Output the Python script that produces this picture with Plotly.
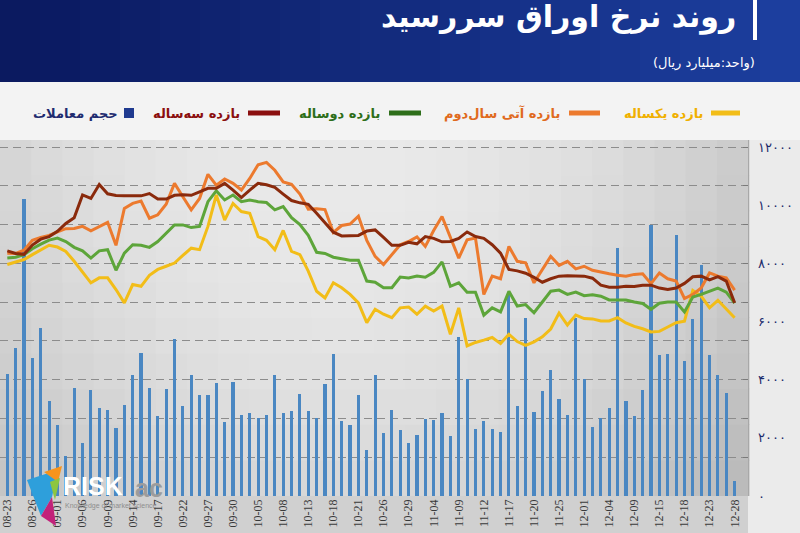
import plotly.graph_objects as go

# ---------------- data ----------------
tick_labels = ["08-23", "08-26", "09-01", "09-06", "09-09", "09-14", "09-17", "09-22",
               "09-27", "09-30", "10-05", "10-08", "10-13", "10-18", "10-21", "10-26",
               "10-29", "11-04", "11-09", "11-12", "11-17", "11-20", "11-25", "12-01",
               "12-04", "12-09", "12-15", "12-18", "12-23", "12-28"]

yield_1y = [7960, 8050, 8130, 8300, 8470, 8620, 8560, 8410, 8070, 7700,
            7330, 7500, 7500, 7100, 6640, 7270, 7210, 7590, 7790, 7900,
            8010, 8270, 8520, 8470, 9270, 10350, 9490, 10060, 9780, 9720,
            8920, 8790, 8470, 9130, 8410, 8300, 7730, 7040, 6810, 7330,
            7160, 6930, 6640, 5960, 6420, 6250, 6130, 6470, 6500, 6250,
            6530, 6360, 6530, 5560, 6470, 5160, 5280, 5360, 5450, 5240,
            5560, 5310, 5180, 5300, 5470, 5740, 6290, 5880, 6220, 6100,
            6090, 6020, 6020, 6130, 5950, 5830, 5750, 5640, 5660, 5810,
            5960, 6010, 7070, 6870, 6470, 6730, 6420, 6130]

yield_fwd_2nd = [8350, 8340, 8450, 8790, 8890, 8960, 9080, 9190, 9200, 9270,
                 9120, 9270, 9410, 8620, 9890, 10060, 10140, 9550, 9670, 10030,
                 10750, 10290, 9840, 10230, 11060, 10690, 10900, 10750, 10520, 10920,
                 11390, 11470, 11200, 10800, 10720, 10380, 9860, 9880, 9850, 9060,
                 9300, 9350, 9620, 8790, 8240, 7960, 8300, 8640, 8750, 8910,
                 8580, 9130, 9610, 8870, 8180, 8810, 8870, 6930, 7560, 7470,
                 8580, 8070, 8020, 7330, 7810, 8240, 7930, 8070, 7810, 7900,
                 7760, 7690, 7640, 7590, 7560, 7620, 7640, 7300, 7670, 7470,
                 7390, 6790, 6930, 7150, 7670, 7560, 7500, 7080]

yield_2y = [8180, 8210, 8300, 8500, 8660, 8800, 8870, 8750, 8550, 8430,
            8180, 8430, 8470, 7760, 8350, 8640, 8620, 8550, 8750, 9040,
            9320, 9320, 9230, 9270, 10120, 10490, 10180, 10350, 10120, 10180,
            10120, 10090, 9840, 9950, 9570, 9330, 8960, 8380, 8340, 8210,
            8170, 8110, 8110, 7390, 7350, 7160, 7160, 7530, 7500, 7560,
            7520, 7690, 8050, 7210, 7330, 7010, 7010, 6220, 6470, 6330,
            7040, 6530, 6580, 6300, 6670, 7040, 7080, 6930, 7010, 6890,
            6920, 6870, 6740, 6750, 6740, 6670, 6620, 6420, 6630, 6670,
            6670, 6330, 6840, 6930, 7030, 7150, 7010, 6630]

yield_3y = [8430, 8340, 8310, 8630, 8830, 8920, 9100, 9370, 9570, 10350,
            10230, 10710, 10390, 10330, 10320, 10320, 10320, 10400, 10210, 10210,
            10340, 10360, 10340, 10460, 10580, 10580, 10750, 10520, 10260, 10520,
            10750, 10700, 10610, 10380, 10160, 10080, 10030, 9720, 9380, 9070,
            8940, 8940, 8960, 9110, 9150, 8890, 8620, 8620, 8720, 8670,
            8920, 8860, 8740, 8750, 8860, 9080, 8920, 8860, 8640, 8350,
            7790, 7740, 7660, 7520, 7350, 7470, 7560, 7570, 7570, 7560,
            7490, 7250, 7180, 7180, 7210, 7200, 7250, 7250, 7150, 7100,
            7150, 7310, 7540, 7560, 7430, 7540, 7390, 6640]

trade_volume = [4200, 5080, 10220, 4740, 5790, 3280, 2430, 1370, 3720, 1820,
                3660, 3030, 2970, 2350, 3140, 4160, 4930, 3720, 2740, 3680,
                5390, 3090, 4160, 3460, 3460, 3890, 2540, 3930, 2800, 2870,
                2690, 2800, 4160, 2850, 2940, 3500, 2940, 2690, 3850, 4880,
                2590, 2450, 3480, 1570, 4160, 2160, 2970, 2260, 1820, 2110,
                2660, 2630, 2850, 2080, 5470, 4030, 2320, 2570, 2320, 2200,
                6990, 3080, 6110, 2880, 3600, 4340, 3340, 2790, 6130, 4020,
                2370, 2690, 3020, 8520, 3280, 2740, 3650, 9320, 4860, 4880,
                8980, 4650, 6090, 7960, 4840, 4170, 3550, 520]

y_tick_values = [0, 2000, 4000, 6000, 8000, 10000, 12000]
y_tick_text = ["۰", "۲۰۰۰", "۴۰۰۰", "۶۰۰۰", "۸۰۰۰", "۱۰۰۰۰", "۱۲۰۰۰"]

series_names = ["بازده یکساله", "بازده آتی سال‌دوم", "بازده دوساله", "بازده سه‌ساله", "حجم معاملات"]
title_text = "روند نرخ اوراق سررسید"
unit_text = "(واحد:میلیارد ریال)"

# ---------------- styling ----------------
C_YEL = "#F2BD18"
C_ORG = "#EC7A2E"
C_GRN = "#5DA53A"
C_RED = "#8A2A0C"
C_BAR = "#4A87C2"

W, H = 800, 533
PL, PR, PT, PB = 0, 748, 140, 496   # plot area in pixels
FA = "DejaVu Sans"


def px(x):
    return (x - PL) / (PR - PL)


def py(y):
    return (PB - y) / (PB - PT)


x_idx = list(range(len(yield_1y)))
tick_pos = x_idx[::3]

fig = go.Figure()
fig.add_trace(go.Bar(x=x_idx, y=trade_volume, width=0.38, marker=dict(color=C_BAR, line=dict(width=0)),
                     name=series_names[4], showlegend=False))
for vals, col, nm in [(yield_1y, C_YEL, series_names[0]), (yield_fwd_2nd, C_ORG, series_names[1]),
                      (yield_2y, C_GRN, series_names[2]), (yield_3y, C_RED, series_names[3])]:
    fig.add_trace(go.Scatter(x=x_idx, y=vals, mode="lines", line=dict(color=col, width=3),
                             name=nm, showlegend=False))

shapes = []

# plot background: soft radial-ish gradient
NC, NR = 24, 10
for c in range(NC):
    for r in range(NR):
        fx = (c + 0.5) / NC
        fy = (r + 0.5) / NR
        d2 = ((fx - 0.45) / 0.55) ** 2 + ((fy - 1.0) / 1.3) ** 2
        b = int(max(178, min(234, 234 - 32 * d2)))
        shapes.append(dict(type="rect", xref="paper", yref="paper", x0=c / NC, x1=(c + 1) / NC + 0.002,
                           y0=r / NR, y1=(r + 1) / NR + 0.002, fillcolor=f"rgb({b},{b},{b})",
                           line=dict(width=0), layer="below"))

# band under plot (x labels)
shapes.append(dict(type="rect", xref="paper", yref="paper", x0=px(0), x1=px(PR), y0=py(533), y1=py(PB),
                   fillcolor="#d0d0d0", line=dict(width=0), layer="below"))
# legend band
shapes.append(dict(type="rect", xref="paper", yref="paper", x0=px(0), x1=px(W), y0=py(PT), y1=py(82),
                   fillcolor="#f3f3f3", line=dict(width=0), layer="below"))
# header gradient
NH = 20
for k in range(NH):
    t = k / (NH - 1)
    r_ = int(11 + (28 - 11) * t)
    g_ = int(26 + (62 - 26) * t)
    b_ = int(96 + (158 - 96) * t)
    shapes.append(dict(type="rect", xref="paper", yref="paper", x0=px(W * k / NH), x1=px(W * (k + 1) / NH) + 0.002,
                       y0=py(82), y1=py(0), fillcolor=f"rgb({r_},{g_},{b_})", line=dict(width=0), layer="below"))
# white vertical bar in header
shapes.append(dict(type="rect", xref="paper", yref="paper", x0=px(753), x1=px(757), y0=py(40), y1=py(0),
                   fillcolor="white", line=dict(width=0), layer="above"))

annotations = [
    dict(text="<b>" + title_text + "</b>", x=px(738), y=py(17), xref="paper", yref="paper",
         xanchor="right", yanchor="middle", showarrow=False, font=dict(family=FA, size=30, color="white")),
    dict(text=unit_text, x=px(757), y=py(63), xref="paper", yref="paper",
         xanchor="right", yanchor="middle", showarrow=False, font=dict(family=FA, size=13, color="white")),
]

# manual RTL legend
legend_items = [
    (series_names[0], C_YEL, "#F0B000", 711, 740, 705),
    (series_names[1], C_ORG, "#E06A1E", 569, 600, 562),
    (series_names[2], "#2E6E1A", "#2E6E1A", 389, 421, 382),
    (series_names[3], "#8B0F0F", "#8B0F0F", 248, 280, 242),
]
LY = 113
for name, lc, tc, x0, x1, tx in legend_items:
    shapes.append(dict(type="line", xref="paper", yref="paper", x0=px(x0), x1=px(x1), y0=py(LY), y1=py(LY),
                       line=dict(color=lc, width=5), layer="above"))
    annotations.append(dict(text="<b>" + name + "</b>", x=px(tx), y=py(LY), xref="paper", yref="paper",
                            xanchor="right", yanchor="middle", showarrow=False,
                            font=dict(family=FA, size=13, color=tc)))
shapes.append(dict(type="rect", xref="paper", yref="paper", x0=px(124), x1=px(134), y0=py(118), y1=py(108),
                   fillcolor="#1F3A8F", line=dict(width=0), layer="above"))
annotations.append(dict(text="<b>" + series_names[4] + "</b>", x=px(120), y=py(LY), xref="paper", yref="paper",
                        xanchor="right", yanchor="middle", showarrow=False,
                        font=dict(family=FA, size=13, color="#1F2C70")))

# watermark logo
logo_parts = [
    ([(27, 480), (58, 470), (52, 497), (41, 516)], "#2E9FDB"),
    ([(44, 472), (62, 466), (58, 482)], "#F7941D"),
    ([(50, 482), (60, 478), (55, 500)], "#8DC63F"),
    ([(41, 516), (52, 497), (56, 526)], "#C2227A"),
]
for pts, col in logo_parts:
    path = "M " + " L ".join(f"{px(a):.4f},{py(b):.4f}" for a, b in pts) + " Z"
    shapes.append(dict(type="path", xref="paper", yref="paper", path=path, fillcolor=col,
                       line=dict(width=0), layer="above"))
annotations += [
    dict(text="<b>RISK</b>", x=px(61), y=py(486), xref="paper", yref="paper", xanchor="left", yanchor="middle",
         showarrow=False, font=dict(family="Liberation Sans", size=25, color="white")),
    dict(text="<b>ac</b>", x=px(133), y=py(488), xref="paper", yref="paper", xanchor="left", yanchor="middle",
         showarrow=False, font=dict(family="Liberation Sans", size=25, color="#9C9C9C")),
    dict(text="Knowledge of market science", x=px(63), y=py(506), xref="paper", yref="paper", xanchor="left",
         yanchor="middle", showarrow=False, font=dict(family="Liberation Sans", size=7, color="#8E8E8E")),
]

y_top = 12000 * (PB - PT) / (PB - 147)
grid_vals = [12000 * k / 9 for k in range(1, 10)]

fig.update_layout(
    template="none",
    width=W, height=H,
    margin=dict(l=PL, r=W - PR, t=PT, b=H - PB, pad=0),
    paper_bgcolor="#ebebeb",
    plot_bgcolor="#d8d8d8",
    showlegend=False,
    bargap=0,
    xaxis=dict(range=[-0.873, 88.6], tickmode="array", tickvals=tick_pos, ticktext=tick_labels,
               tickangle=-90, showgrid=False, zeroline=False, showline=False, ticks="",
               automargin=False, tickfont=dict(family="Liberation Sans Narrow", size=12, color="#3A3A3A")),
    yaxis=dict(range=[0, y_top], side="right", tickmode="array", tickvals=y_tick_values, ticktext=y_tick_text,
               showgrid=False, zeroline=False, showline=False, ticks="", automargin=False,
               ticklabelstandoff=9, tickfont=dict(family=FA, size=13, color="#1B2A6B")),
    yaxis2=dict(range=[0, y_top], overlaying="y", side="right", tickmode="array", tickvals=grid_vals,
                showticklabels=False, showgrid=True, griddash="8px,5px", gridcolor="#8C8C8C", gridwidth=1,
                zeroline=False, showline=True, linecolor="#A8A8A8", linewidth=1,
                ticks="inside", ticklen=5, tickcolor="#7A7A7A", automargin=False),
    shapes=shapes,
    annotations=annotations,
)
# invisible helper trace so that the grid axis (yaxis2) is drawn
fig.add_trace(go.Scatter(x=[x_idx[0]], y=[0], yaxis="y2", mode="markers", marker=dict(opacity=0),
                         hoverinfo="skip", showlegend=False))

fig.write_html("out.html",
               config={"displayModeBar": False},
               post_script="document.body.style.margin='0';document.body.style.overflow='hidden';")
